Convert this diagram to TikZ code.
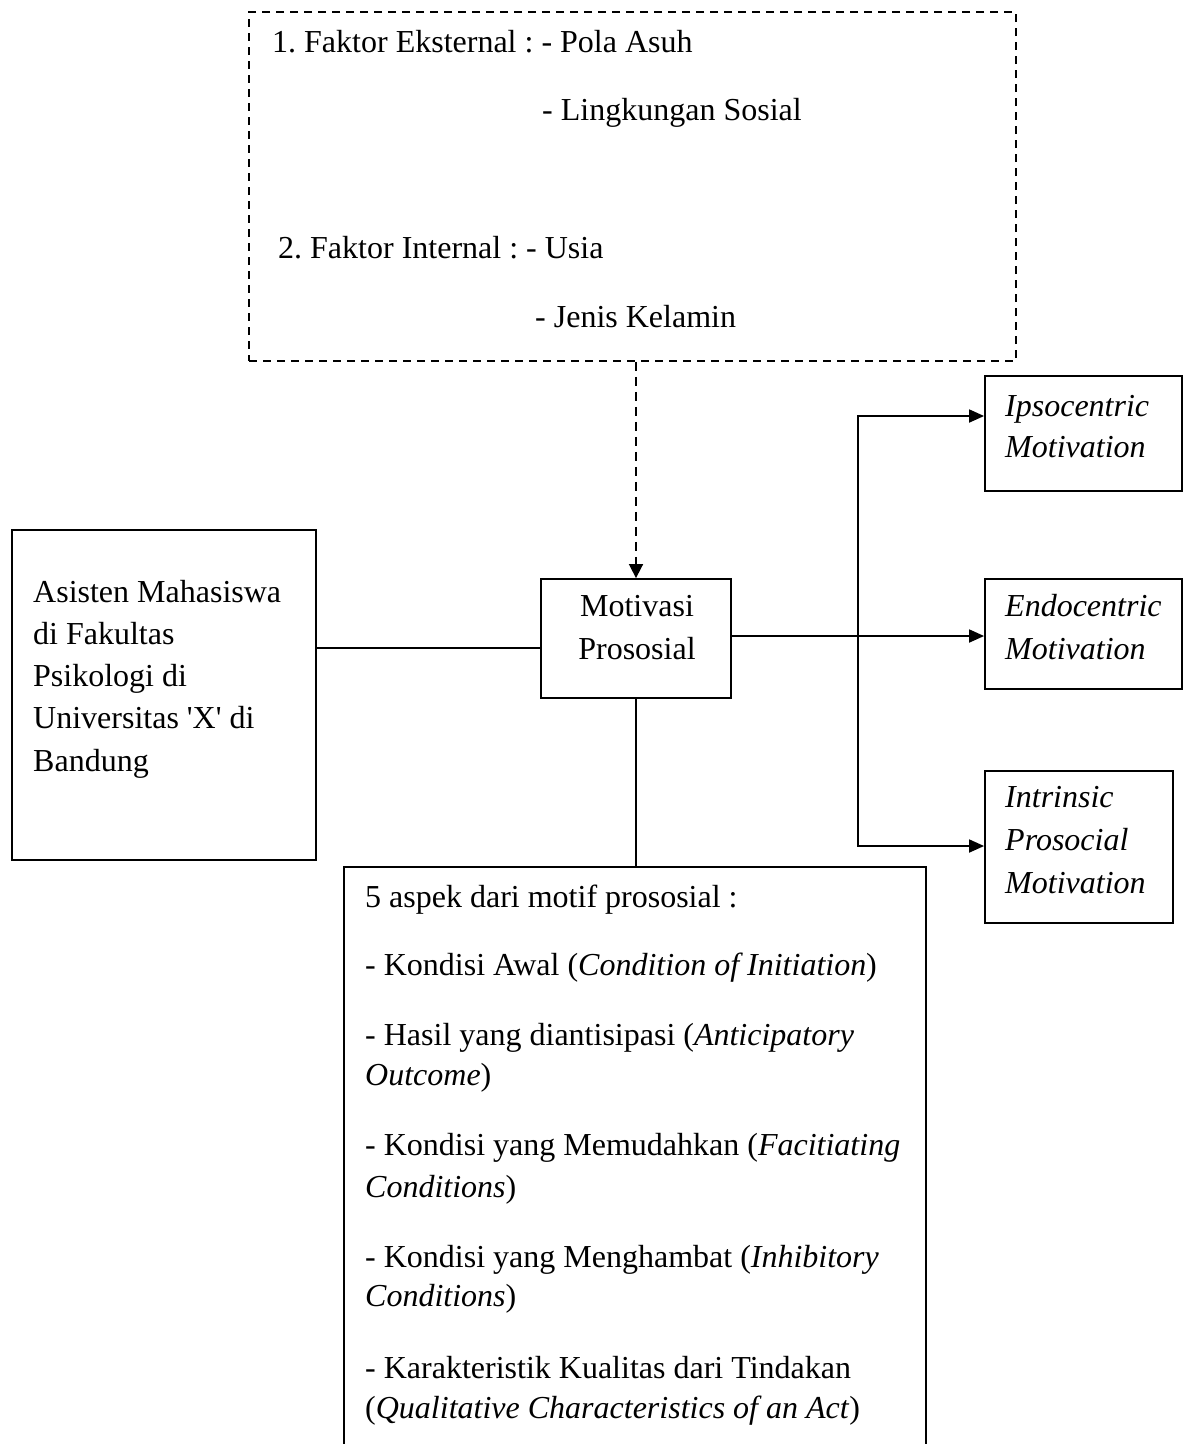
\documentclass[tikz,border=0pt]{standalone}
\usepackage{fontspec}
\setmainfont{Liberation Serif}
\usetikzlibrary{arrows.meta}
\frenchspacing
\begin{document}
\begin{tikzpicture}[x=1pt,y=-1pt,
  box/.style={draw,line width=1.8pt,inner sep=0pt},
  dbox/.style={draw,line width=1.6pt,inner sep=0pt,dash pattern=on 8pt off 6pt},
  txt/.style={anchor=base west,inner sep=0pt,font=\fontsize{32}{38}\selectfont},
  ctxt/.style={anchor=base,inner sep=0pt,font=\fontsize{32}{38}\selectfont},
  conn/.style={line width=1.8pt},
  arr/.style={line width=1.8pt,-{Triangle[length=15pt,width=13pt]}},
  darr/.style={line width=1.6pt,dash pattern=on 9pt off 6pt,-{Triangle[length=14pt,width=14pt]}},
]
\useasboundingbox (0,0) rectangle (1183,1444);
\clip (0,0) rectangle (1183,1444);

% boxes
\node[dbox,minimum width=767pt,minimum height=349pt] (fak) at (632.5,186.5) {};
\node[box,minimum width=304pt,minimum height=330pt] (asis) at (164,695) {};
\node[box,minimum width=190pt,minimum height=119pt] (mot) at (636,638.5) {};
\node[box,minimum width=197pt,minimum height=115pt] (ipso) at (1083.5,433.5) {};
\node[box,minimum width=197pt,minimum height=110pt] (endo) at (1083.5,634) {};
\node[box,minimum width=188pt,minimum height=152pt] (intr) at (1079,847) {};
\node[box,minimum width=582pt,minimum height=603pt] (asp) at (635,1168.5) {};

% texts: factors
\node[txt] (f1) at (272,52) {1. Faktor Eksternal : - Pola Asuh};
\node[txt] (f2) at (542,120) {- Lingkungan Sosial};
\node[txt] (f3) at (278,258) {2. Faktor Internal : - Usia};
\node[txt] (f4) at (535,327) {- Jenis Kelamin};

% left box
\node[txt] (a1) at (33,602) {Asisten Mahasiswa};
\node[txt] (a2) at (33,644) {di Fakultas};
\node[txt] (a3) at (33,686) {Psikologi di};
\node[txt] (a4) at (33,728) {Universitas \textquotesingle X\textquotesingle{} di};
\node[txt] (a5) at (33,771) {Bandung};

% motivasi
\node[ctxt] (m1) at (637,616) {Motivasi};
\node[ctxt] (m2) at (637,659) {Prososial};

% right boxes
\node[txt] (i1) at (1005,416) {\itshape Ipsocentric};
\node[txt] (i2) at (1005,457.5) {\itshape Motivation};
\node[txt] (e1) at (1005,616) {\itshape Endocentric};
\node[txt] (e2) at (1005,659) {\itshape Motivation};
\node[txt] (n1) at (1005,807.5) {\itshape Intrinsic};
\node[txt] (n2) at (1005,850) {\itshape Prosocial};
\node[txt] (n3) at (1005,893) {\itshape Motivation};

% aspects box
\node[txt] (s1) at (365,907) {5 aspek dari motif prososial :};
\node[txt] (s2) at (365,975) {- Kondisi Awal (\textit{Condition of Initiation})};
\node[txt] (s3) at (365,1045) {- Hasil yang diantisipasi (\textit{Anticipatory}};
\node[txt] (s4) at (365,1085) {\textit{Outcome})};
\node[txt] (s5) at (365,1155) {- Kondisi yang Memudahkan (\textit{Facitiating}};
\node[txt] (s6) at (365,1197) {\textit{Conditions})};
\node[txt] (s7) at (365,1267) {- Kondisi yang Menghambat (\textit{Inhibitory}};
\node[txt] (s8) at (365,1306) {\textit{Conditions})};
\node[txt] (s9) at (365,1378) {- Karakteristik Kualitas dari Tindakan};
\node[txt] (s10) at (365,1418) {(\textit{Qualitative Characteristics of an Act})};

% connectors
\draw[darr] (mot.north |- fak.south) -- (mot.north);
\draw[conn] (asis.east |- 0,648) -- (mot.west |- 0,648);
\draw[conn] (mot.south) -- (mot.south |- asp.north);
\coordinate (jtop) at (858,416);
\coordinate (jbot) at (858,846);
\draw[arr] (mot.east |- 0,636) -- (endo.west |- 0,636);
\draw[arr] (jbot) -- (jtop) -- (ipso.west |- jtop);
\draw[arr] (jtop) -- (jbot) -- (intr.west |- jbot);
\end{tikzpicture}
\end{document}
